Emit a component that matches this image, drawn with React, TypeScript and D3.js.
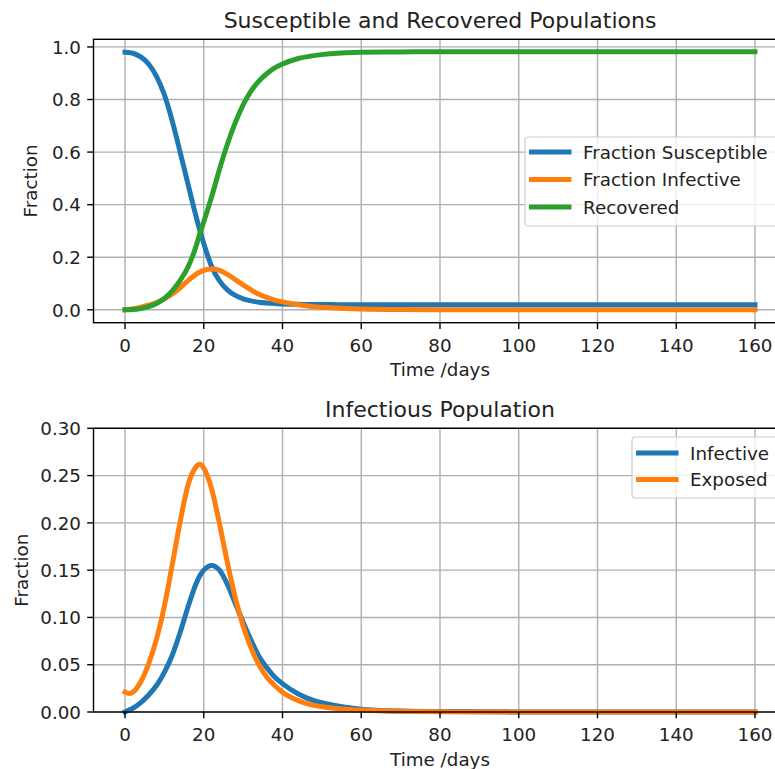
import * as d3 from 'd3';

// sample days
const days = [0, 1, 2, 4, 6, 8, 10, 12, 14, 16, 18, 19, 20, 22, 24, 26, 28, 30, 32, 34, 36, 38, 40, 44, 48, 52, 56, 60, 70, 80, 100, 120, 140, 160];

const susceptible = [0.980, 0.979, 0.976, 0.962, 0.935, 0.888, 0.818, 0.718, 0.600, 0.478, 0.358, 0.302, 0.252, 0.165, 0.110, 0.076, 0.055, 0.042, 0.034, 0.029, 0.026, 0.024, 0.022, 0.021, 0.020, 0.020, 0.019, 0.019, 0.019, 0.019, 0.019, 0.019, 0.019, 0.019];
const infective = [0, 0.002, 0.004, 0.010, 0.018, 0.028, 0.042, 0.060, 0.084, 0.111, 0.135, 0.144, 0.150, 0.155, 0.150, 0.135, 0.115, 0.095, 0.076, 0.059, 0.047, 0.037, 0.030, 0.019, 0.012, 0.008, 0.005, 0.003, 0.001, 0.0004, 0.0001, 0, 0, 0];
const exposed = [0.021, 0.0195, 0.021, 0.032, 0.051, 0.077, 0.112, 0.156, 0.201, 0.240, 0.259, 0.262, 0.258, 0.236, 0.199, 0.158, 0.121, 0.091, 0.068, 0.050, 0.037, 0.028, 0.021, 0.012, 0.007, 0.0045, 0.003, 0.002, 0.0007, 0.0003, 0.0001, 0, 0, 0];
const recovered = [0, 0.0003, 0.001, 0.005, 0.012, 0.024, 0.043, 0.072, 0.112, 0.163, 0.240, 0.290, 0.335, 0.430, 0.535, 0.630, 0.712, 0.780, 0.832, 0.870, 0.898, 0.920, 0.935, 0.956, 0.967, 0.974, 0.978, 0.980, 0.981, 0.982, 0.982, 0.982, 0.982, 0.982];

const xTicks = [0, 20, 40, 60, 80, 100, 120, 140, 160];
const topYTicks = [0, 0.2, 0.4, 0.6, 0.8, 1.0];
const bottomYTicks = [0, 0.05, 0.1, 0.15, 0.2, 0.25, 0.3];

const topSeries = [
  { name: 'Fraction Susceptible', values: susceptible, color: '#1f77b4' },
  { name: 'Fraction Infective', values: infective, color: '#ff7f0e' },
  { name: 'Recovered', values: recovered, color: '#2ca02c' },
];
const bottomSeries = [
  { name: 'Infective', values: infective, color: '#1f77b4' },
  { name: 'Exposed', values: exposed, color: '#ff7f0e' },
];

const FONT = 'DejaVu Sans';
const TXT = '#222';
const tickFs = 18.3;

function Panel({ top, bottom, yDomain, yTicks, yFmt, title, series, legend, ylabelX }) {
  const left = 93.5;
  const right = 786.5;
  const x = d3.scaleLinear().domain([-8, 168]).range([left, right]);
  const y = d3.scaleLinear().domain(yDomain).range([bottom, top]);
  const line = d3.line<number>()
    .x((_, i) => x(days[i]))
    .y((d) => y(d))
    .curve(d3.curveMonotoneX);

  return (
    <g>
      {/* grid */}
      {xTicks.map((t) => (
        <line key={'gx' + t} x1={x(t)} x2={x(t)} y1={top} y2={bottom} stroke="#b0b0b0" strokeWidth={1.4} />
      ))}
      {yTicks.map((t) => (
        <line key={'gy' + t} x1={left} x2={right} y1={y(t)} y2={y(t)} stroke="#b0b0b0" strokeWidth={1.4} />
      ))}

      {/* curves */}
      {series.map((s) => (
        <path key={s.name} d={line(s.values)} fill="none" stroke={s.color} strokeWidth={5}
          strokeLinecap="square" strokeLinejoin="round" />
      ))}

      {/* spines */}
      <rect x={left} y={top} width={right - left} height={bottom - top} fill="none" stroke="#000" strokeWidth={1.4} />

      {/* x ticks */}
      {xTicks.map((t) => (
        <g key={'xt' + t}>
          <line x1={x(t)} x2={x(t)} y1={bottom} y2={bottom + 6.3} stroke="#000" strokeWidth={1.4} />
          <text x={x(t)} y={bottom + 28.8} textAnchor="middle" fontSize={tickFs} fontFamily={FONT} fill={TXT}>{t}</text>
        </g>
      ))}
      {/* y ticks */}
      {yTicks.map((t) => (
        <g key={'yt' + t}>
          <line x1={left - 6.3} x2={left} y1={y(t)} y2={y(t)} stroke="#000" strokeWidth={1.4} />
          <text x={81} y={y(t) + 6.7} textAnchor="end" fontSize={tickFs} fontFamily={FONT} fill={TXT}>{yFmt(t)}</text>
        </g>
      ))}

      <text x={(left + right) / 2} y={top - 11.8} textAnchor="middle" fontSize={22} fontFamily={FONT} fill={TXT}>{title}</text>
      <text x={(left + right) / 2} y={bottom + 53.5} textAnchor="middle" fontSize={tickFs} fontFamily={FONT} fill={TXT}>Time /days</text>
      <text transform={`translate(${ylabelX},${(top + bottom) / 2}) rotate(-90)`} textAnchor="middle" fontSize={tickFs} fontFamily={FONT} fill={TXT}>Fraction</text>

      {/* legend */}
      <rect x={legend.x} y={legend.y} width={legend.w} height={legend.h} rx={3.5} fill="#fff" fillOpacity={0.8} stroke="#cccccc" strokeWidth={1.2} />
      {series.map((s, i) => {
        const ry = legend.row0 + i * legend.step;
        return (
          <g key={'lg' + s.name}>
            <line x1={legend.x + 6.5} x2={legend.x + 44} y1={ry} y2={ry} stroke={s.color} strokeWidth={5} strokeLinecap="square" />
            <text x={legend.x + 58} y={ry + 6.5} fontSize={tickFs} fontFamily={FONT} fill={TXT}>{s.name}</text>
          </g>
        );
      })}
    </g>
  );
}

export default function App() {
  return (
    <svg width={775} height={769} style={{ position: 'absolute', left: 0, top: 0, background: '#fff' }}>
      <Panel
        top={39.3}
        bottom={322.7}
        yDomain={[-0.049, 1.029]}
        yTicks={topYTicks}
        yFmt={d3.format('.1f')}
        title="Susceptible and Recovered Populations"
        series={topSeries}
        legend={{ x: 525, y: 137, w: 270, h: 89, row0: 152, step: 27.5 }}
        ylabelX={37}
      />
      <Panel
        top={428.3}
        bottom={712}
        yDomain={[0, 0.3]}
        yTicks={bottomYTicks}
        yFmt={d3.format('.2f')}
        title="Infectious Population"
        series={bottomSeries}
        legend={{ x: 632, y: 437, w: 160, h: 61, row0: 453, step: 26.5 }}
        ylabelX={28}
      />
    </svg>
  );
}
